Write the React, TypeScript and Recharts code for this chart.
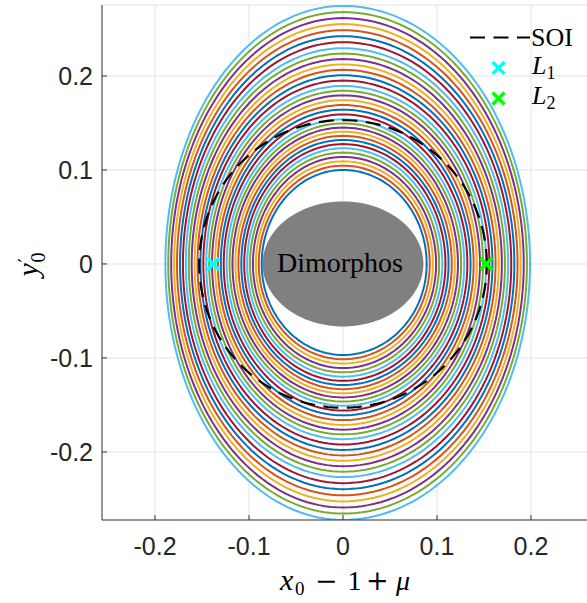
import React from 'react';
import {
  ComposedChart,
  Line,
  Area,
  Scatter,
  XAxis,
  YAxis,
  CartesianGrid,
  ReferenceDot,
  Label,
} from 'recharts';

// Ring extents (innermost -> outermost), in axis units
const ringTop = [
  0.1, 0.1046, 0.1092, 0.1139, 0.1185, 0.1231, 0.1275, 0.1319, 0.1363, 0.1407,
  0.1451, 0.1495, 0.1539, 0.159, 0.1641, 0.1691, 0.1742, 0.1793, 0.1843, 0.1894,
  0.1951, 0.2008, 0.2066, 0.2123, 0.218, 0.2238, 0.2295, 0.2359, 0.2423, 0.2487,
  0.2552, 0.2616, 0.268, 0.2745,
];
const ringBottom = [
  0.0968, 0.1014, 0.106, 0.1107, 0.1153, 0.1199, 0.1243, 0.1288, 0.1332, 0.1376,
  0.142, 0.1464, 0.1508, 0.1559, 0.161, 0.1661, 0.1712, 0.1763, 0.1813, 0.1864,
  0.1921, 0.1979, 0.2037, 0.2094, 0.2152, 0.221, 0.2267, 0.2332, 0.2396, 0.2461,
  0.2526, 0.2591, 0.2656, 0.2723,
];
const ringLeft = [
  0.0865, 0.0896, 0.0927, 0.0958, 0.0989, 0.102, 0.1051, 0.1082, 0.1113, 0.1145,
  0.1176, 0.1207, 0.1238, 0.1269, 0.13, 0.1331, 0.1362, 0.1393, 0.1424, 0.1455,
  0.1486, 0.1517, 0.1548, 0.1579, 0.161, 0.1641, 0.1672, 0.1703, 0.1734, 0.1766,
  0.1797, 0.1828, 0.1859, 0.189,
];
const ringRight = [
  0.089, 0.0923, 0.0957, 0.099, 0.1023, 0.1057, 0.109, 0.1123, 0.1157, 0.119,
  0.1223, 0.1257, 0.129, 0.1323, 0.1357, 0.139, 0.1423, 0.1457, 0.149, 0.1523,
  0.1557, 0.159, 0.1623, 0.1657, 0.169, 0.1723, 0.1757, 0.179, 0.1823, 0.1857,
  0.189, 0.1923, 0.1957, 0.199,
];
const lineColors = ['#0072BD', '#D95319', '#EDB120', '#7E2F8E', '#77AC30', '#4DBEEE', '#A2142F'];

const soiRadius = [0.153];
const dimorphosSemiAxes = [0.0855, 0.0665];
const lagrangeNames = ['L1', 'L2'];
const lagrangeX = [-0.138, 0.1525];
const lagrangeColors = ['#00FFFF', '#00FF00'];

const xTicks = [-0.2, -0.1, 0, 0.1, 0.2];
const yTicks = [-0.2, -0.1, 0, 0.1, 0.2];
const xDomain = [-0.2564, 0.2649];
const yDomain = [-0.2724, 0.2755];

const SEG = 180;
const outline = (r: number, l: number, t: number, b: number) => {
  const pts: { x: number; y: number }[] = [];
  for (let k = 0; k <= SEG; k++) {
    const th = (2 * Math.PI * k) / SEG;
    const c = Math.cos(th);
    const s = Math.sin(th);
    pts.push({ x: (c >= 0 ? r : l) * c, y: (s >= 0 ? t : b) * s });
  }
  return pts;
};

const rings = ringTop.map((t, i) => outline(ringRight[i], ringLeft[i], t, ringBottom[i]));
const soiData = outline(soiRadius[0], soiRadius[0], soiRadius[0], soiRadius[0]);
const dimorphosData = (() => {
  const pts: { x: number; range: [number, number] }[] = [];
  const [a, b] = dimorphosSemiAxes;
  for (let k = 0; k <= SEG; k++) {
    const th = (Math.PI * k) / SEG;
    const h = b * Math.sin(th);
    pts.push({ x: a * Math.cos(th), range: [-h, h] });
  }
  return pts;
})();

const axisColor = '#3a3a3a';
const tickFont = { fontFamily: '"Liberation Sans", Arial, sans-serif', fontSize: 25, fill: '#262626' };
const serif = '"Liberation Serif", "Times New Roman", serif';
const opFont = '"DejaVu Serif", serif';

const XMark = (props: any) => {
  const { cx, cy, color } = props;
  if (cx == null || cy == null) return null;
  const d = 6;
  return (
    <g stroke={color} strokeWidth={3.4} strokeLinecap="butt">
      <line x1={cx - d} y1={cy - d} x2={cx + d} y2={cy + d} />
      <line x1={cx - d} y1={cy + d} x2={cx + d} y2={cy - d} />
    </g>
  );
};

const XTitle = (props: any) => {
  const vb = props.viewBox || { x: 102, y: 520, width: 490, height: 83 };
  const cx = vb.x + vb.width / 2;
  const y = vb.y + 70;
  return (
    <text y={y} fontFamily={serif} fontSize={28} fill="#000">
      <tspan x={cx - 67} fontStyle="italic" fontSize={30}>x</tspan>
      <tspan x={cx - 52} dy={5} fontSize={19}>0</tspan>
      <tspan x={cx - 32} dy={-5} fontFamily={opFont} fontSize={27}>−</tspan>
      <tspan x={cx + 0.5}>1</tspan>
      <tspan x={cx + 19} fontFamily={opFont} fontSize={27}>+</tspan>
      <tspan x={cx + 49} fontStyle="italic">μ</tspan>
    </text>
  );
};

const YTitle = (props: any) => {
  const vb = props.viewBox || { x: 0, y: 5, width: 102, height: 515 };
  const cy = vb.y + vb.height / 2;
  const x = 38;
  return (
    <text transform={`rotate(-90, ${x}, ${cy})`} x={x} y={cy} fontFamily={serif} fontSize={30} fill="#000">
      <tspan x={x - 14} fontStyle="italic">y</tspan>
      <tspan x={x - 0} dy={-5} fontSize={20} fontFamily={opFont}>′</tspan>
      <tspan x={x - 0} dy={12} fontSize={20}>0</tspan>
    </text>
  );
};

const DimLabel = (props: any) => {
  const vb = props.viewBox || { x: 0, y: 0 };
  const cx = vb.x + (vb.width || 0) / 2;
  const cy = vb.y + (vb.height || 0) / 2;
  return (
    <text x={cx - 3} y={cy + 8} textAnchor="middle" fontFamily={serif} fontSize={28} fill="#000">
      Dimorphos
    </text>
  );
};

const LegendOverlay = () => (
  <svg
    width={130}
    height={100}
    style={{ position: 'absolute', left: 460, top: 15, overflow: 'visible' }}
  >
    <line x1={10} y1={22.5} x2={70} y2={22.5} stroke="#000" strokeWidth={2} strokeDasharray="15 8.5" />
    <text x={71} y={31} fontFamily={serif} fontSize={26} fill="#000">SOI</text>
    {lagrangeNames.map((n, i) => (
      <g key={n}>
        <XMark cx={38.5} cy={53 + i * 30.5} color={lagrangeColors[i]} />
        <text x={72} y={58.5 + i * 30.5} fontFamily={serif} fontSize={26} fill="#000">
          <tspan fontStyle="italic">{n[0]}</tspan>
          <tspan fontSize={18} dy={5}>{n[1]}</tspan>
        </text>
      </g>
    ))}
  </svg>
);

export default function App() {
  return (
    <div style={{ position: 'absolute', left: 0, top: 0, width: 587, height: 603, overflow: 'hidden', background: '#fff' }}>
      <ComposedChart width={600} height={603} margin={{ top: 5, right: 8, bottom: 0, left: 0 }}>
        <CartesianGrid stroke="#e3e3e3" strokeWidth={1} />
        <XAxis
          xAxisId={0}
          type="number"
          dataKey="x"
          domain={xDomain}
          allowDataOverflow
          ticks={xTicks}
          interval={0}
          height={83}
          tickSize={-5}
          tickMargin={22}
          tick={tickFont}
          axisLine={{ stroke: axisColor }}
          tickLine={{ stroke: axisColor }}
          tickFormatter={(v: number) => String(v)}
        >
          <Label content={XTitle} />
        </XAxis>
        <XAxis
          xAxisId="top"
          orientation="top"
          type="number"
          dataKey="x"
          domain={xDomain}
          allowDataOverflow
          ticks={xTicks}
          interval={0}
          height={0}
          tickSize={-5}
          tick={false}
          axisLine={{ stroke: axisColor }}
          tickLine={{ stroke: axisColor }}
        />
        <YAxis
          type="number"
          domain={yDomain}
          allowDataOverflow
          ticks={yTicks}
          interval={0}
          width={102}
          tickSize={-5}
          tickMargin={14}
          tick={tickFont}
          axisLine={{ stroke: axisColor }}
          tickLine={{ stroke: axisColor }}
          tickFormatter={(v: number) => String(v)}
        >
          <Label content={YTitle} />
        </YAxis>
        {rings.map((pts, i) => (
          <Line
            key={`ring-${i}`}
            data={pts}
            dataKey="y"
            type="linear"
            stroke={lineColors[i % lineColors.length]}
            strokeWidth={2}
            dot={false}
            activeDot={false}
            isAnimationActive={false}
          />
        ))}
        <Line
          data={soiData}
          dataKey="y"
          type="linear"
          stroke="#000"
          strokeWidth={2.2}
          strokeDasharray="15 8.5"
          dot={false}
          activeDot={false}
          isAnimationActive={false}
        />
        <Area
          data={dimorphosData}
          dataKey="range"
          type="linear"
          stroke="none"
          fill="#808080"
          fillOpacity={1}
          isAnimationActive={false}
        />
        {lagrangeNames.map((n, i) => (
          <Scatter
            key={n}
            data={[{ x: lagrangeX[i], y: 0 }]}
            dataKey="y"
            fill={lagrangeColors[i]}
            isAnimationActive={false}
            shape={(p: any) => <XMark cx={p.cx} cy={p.cy} color={lagrangeColors[i]} />}
          />
        ))}
        <ReferenceDot x={0} y={0} r={0} fill="none" stroke="none">
          <Label content={DimLabel} position="center" />
        </ReferenceDot>
      </ComposedChart>
      <LegendOverlay />
    </div>
  );
}
